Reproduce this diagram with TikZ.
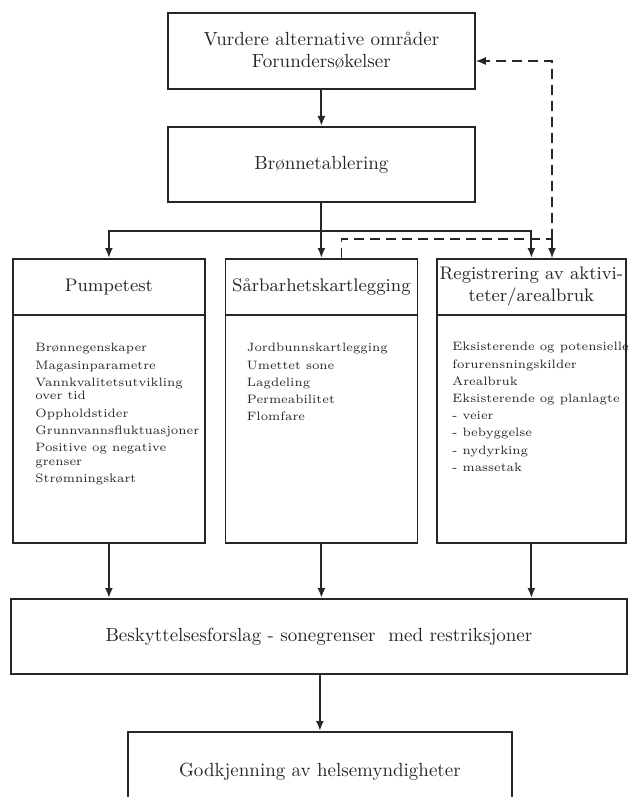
\documentclass[tikz,border=0pt]{standalone}
\usetikzlibrary{arrows.meta, positioning, calc}

\newcommand{\fonttitolo}{\fontsize{9.5}{11}\selectfont}
\newcommand{\fonttesta}{\fontsize{9.1}{11}\selectfont}
\newcommand{\fontelenco}{\fontsize{6.1}{8.6}\selectfont}

\begin{document}
\begin{tikzpicture}[x=0.5pt, y=-0.5pt,
    riquadro/.style={draw=black!85, line width=0.9pt, inner sep=0pt, anchor=north west, align=center, text=black!85, font=\fonttitolo},
    testa/.style={riquadro, font=\fonttesta},
    freccia/.style={draw=black!85, line width=1pt, -{Latex[length=5pt, width=4pt]}},
    tratteggio/.style={draw=black!85, line width=0.7pt, dash pattern=on 5pt off 3pt},
    elenco/.style={anchor=north west, align=left, inner sep=0pt, text=black!85, font=\fontelenco}]
    % Parametri
    \pgfmathsetmacro{\xa}{12}
    \pgfmathsetmacro{\xb}{224.5}
    \pgfmathsetmacro{\xc}{436}
    \pgfmathsetmacro{\ytesta}{258}
    \pgfmathsetmacro{\ycorpo}{314}
    \useasboundingbox (0,0) rectangle (627,797);
    % Riquadri
    \node[riquadro, minimum width=153.5pt, minimum height=38pt] (aree) at (167,12) {Vurdere alternative områder\\Forundersøkelser};
    \node[riquadro, minimum width=153.5pt, minimum height=37.5pt] (bron) at (167,126) {Brønnetablering};
    \node[testa, minimum width=96pt, minimum height=28pt] (pumpa) at (\xa,\ytesta) {Pumpetest};
    \node[riquadro, minimum width=96pt, minimum height=114pt] (pumpacorpo) at (\xa,\ycorpo) {};
    \node[testa, minimum width=96pt, minimum height=28pt] (vuln) at (\xb,\ytesta) {Sårbarhetskartlegging};
    \node[riquadro, minimum width=96pt, minimum height=114pt] (vulncorpo) at (\xb,\ycorpo) {};
    \node[testa, minimum width=94.5pt, minimum height=28pt] (reg) at (\xc,\ytesta) {Registrering av aktivi-\\teter/arealbruk};
    \node[riquadro, minimum width=94.5pt, minimum height=114pt] (regcorpo) at (\xc,\ycorpo) {};
    \node[riquadro, minimum width=308pt, minimum height=37.5pt] (besk) at (10,598) {Beskyttelsesforslag - sonegrenser\ \ med restriksjoner};
    \node[riquadro, minimum width=192pt, minimum height=40pt] (godk) at (127,731) {Godkjenning av helsemyndigheter};
    % Elenchi
    \node[elenco] (pumpaelenco) at ($(pumpacorpo.north west)+(23,29)$) {Brønnegenskaper\\Magasinparametre\\Vannkvalitetsutvikling\\[-1.8pt]over tid\\Oppholdstider\\Grunnvannsfluktuasjoner\\Positive og negative\\[-1.8pt]grenser\\Strømningskart};
    \node[elenco] (vulnelenco) at ($(vulncorpo.north west)+(22,29)$) {Jordbunnskartlegging\\Umettet sone\\Lagdeling\\Permeabilitet\\Flomfare};
    \node[elenco] (regelenco) at ($(regcorpo.north west)+(16,28)$) {Eksisterende og potensielle\\forurensningskilder\\Arealbruk\\Eksisterende og planlagte\\- veier\\- bebyggelse\\- nydyrking\\- massetak};
    % Frecce
    \coordinate (bivio) at ($(bron.south)+(0,28)$);
    \draw[freccia] (aree) -- (bron);
    \draw[draw=black!85, line width=1pt] (bron.south) -- (bivio);
    \draw[freccia] (bivio) -| (pumpa.north);
    \draw[freccia] (bivio) -- (vuln.north);
    \draw[freccia] (bivio) -| (reg.north);
    \foreach \n in {pumpacorpo, vulncorpo, regcorpo}{
        \draw[freccia] (\n.south) -- (\n.south |- besk.north);
    }
    \draw[freccia] (besk.south -| godk.north) -- (godk.north);
    % Ritorno tratteggiato
    \coordinate (dpartenza) at ($(vuln.north)+(20,0)$);
    \coordinate (dnodo) at (552,239);
    \coordinate (dalto) at (552,61);
    \draw[tratteggio] (dpartenza) |- (dnodo);
    \draw[tratteggio, -{Latex[length=5pt, width=4pt]}] (dnodo) -- (dalto) -- (dalto -| aree.east);
    \draw[tratteggio, -{Latex[length=5pt, width=4pt]}] (dnodo) -- (dnodo |- reg.north);
\end{tikzpicture}
\end{document}
